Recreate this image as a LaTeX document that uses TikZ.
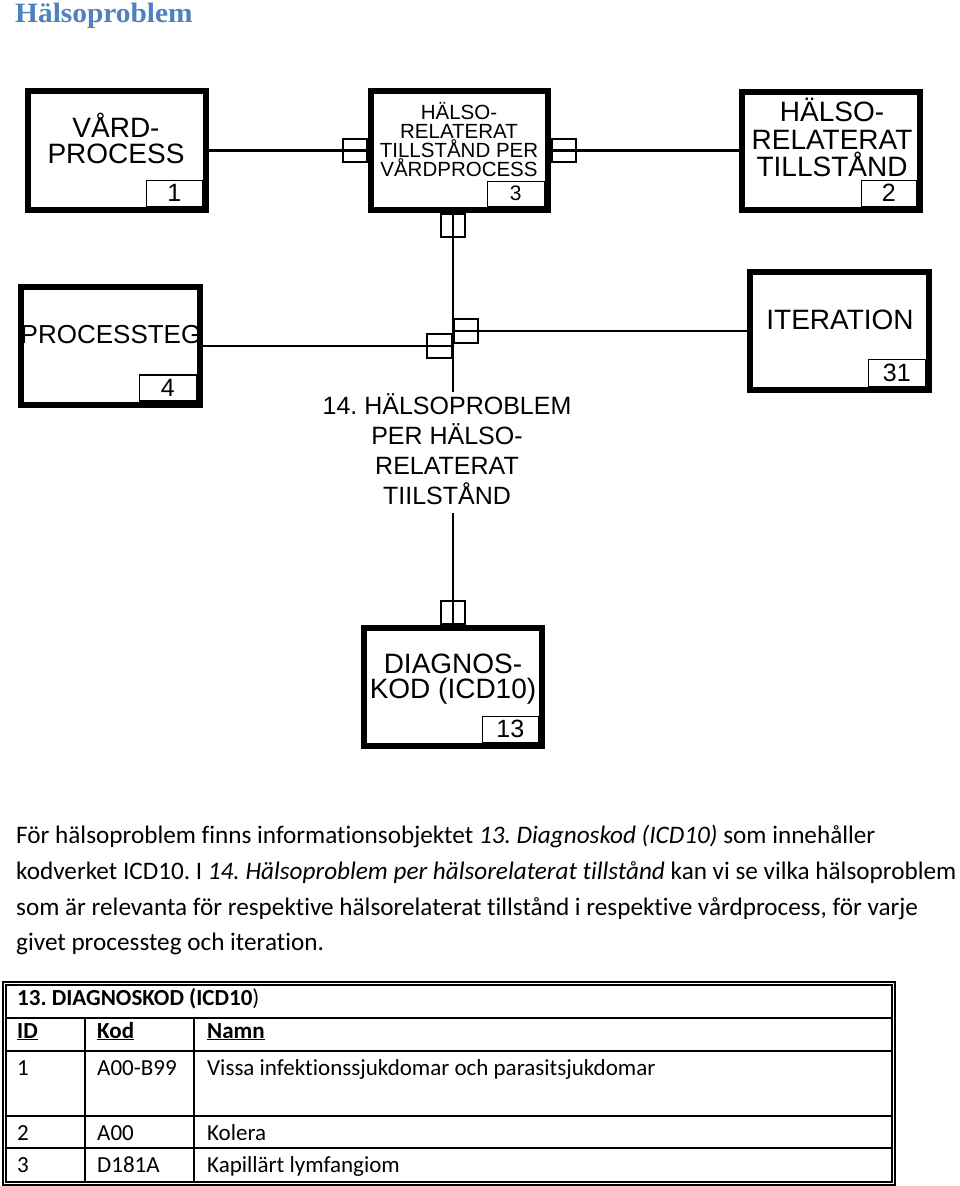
\documentclass[tikz,border=0pt]{standalone}
\usepackage{fontspec}
\setmainfont{Liberation Sans}
\newfontfamily\bodyfont[Ligatures={NoCommon}]{Carlito}
\newfontfamily\titlefont[FakeStretch=1.05]{Liberation Serif}
\definecolor{titleblue}{HTML}{4F81BD}
\frenchspacing
\tikzset{
  entity/.style={draw, line width=6pt, inner sep=0pt},
  numbox/.style={draw, line width=1.5pt, inner sep=0pt, anchor=south east, font=\fontsize{25}{25}\selectfont},
  sq/.style={draw, line width=2pt, inner sep=0pt, minimum width=24pt, minimum height=23pt},
  conn/.style={line width=2.5pt},
  lbl/.style={align=center, inner sep=0pt},
  txt/.style={inner sep=0pt, anchor=base west, font=\bodyfont\fontsize{23}{23}\selectfont},
  para/.style={inner sep=0pt, anchor=base west, font=\bodyfont\fontsize{25.2}{25}\selectfont},
  grid/.style={line width=1.5pt}
}
\begin{document}
\begin{tikzpicture}[x=1pt,y=-1pt]
\useasboundingbox (0,0) rectangle (960,1186);

% title
\node[inner sep=0pt, anchor=base west, text=titleblue, font=\titlefont\bfseries\fontsize{28}{30}\selectfont] (title) at (15,22) {Hälsoproblem};

% entities
\node[entity, minimum width=178pt, minimum height=119pt] (b1) at (117,150.5) {};
\node[lbl, font=\fontsize{28}{26}\selectfont] (t1) at (116,138) {VÅRD-\\PROCESS};
\node[numbox, minimum width=56pt, minimum height=26pt] (n1) at ([shift={(-6,-6)}]b1.south east) {1};

\node[entity, minimum width=177pt, minimum height=119pt] (b3) at (459.5,150.5) {};
\node[lbl, font=\fontsize{20.5}{18.8}\selectfont] (t3) at (459,139.5) {HÄLSO-\\RELATERAT\\TILLSTÅND PER\\VÅRDPROCESS};
\node[numbox, minimum width=57pt, minimum height=25pt, font=\fontsize{21}{21}\selectfont] (n3) at ([shift={(-6,-6)}]b3.south east) {3};

\node[entity, minimum width=178.5pt, minimum height=118pt] (b2) at (830.75,151) {};
\node[lbl, font=\fontsize{28}{27.5}\selectfont] (t2) at (832,137.5) {HÄLSO-\\RELATERAT\\TILLSTÅND};
\node[numbox, minimum width=55pt, minimum height=26pt] (n2) at ([shift={(-6,-6)}]b2.south east) {2};

\node[entity, minimum width=179pt, minimum height=118pt] (b4) at (110.5,345.5) {};
\node[lbl, font=\fontsize{26}{26}\selectfont] (t4) at (111,335) {PROCESSTEG};
\node[numbox, minimum width=57pt, minimum height=26pt] (n4) at ([shift={(-6,-6)}]b4.south east) {4};

\node[entity, minimum width=179pt, minimum height=118pt] (b31) at (839.5,331) {};
\node[lbl, font=\fontsize{28}{28}\selectfont] (t31) at (840,320) {ITERATION};
\node[numbox, minimum width=57pt, minimum height=27pt] (n31) at ([shift={(-6,-6)}]b31.south east) {31};

\node[entity, minimum width=178pt, minimum height=118pt] (b13) at (453,687) {};
\node[lbl, font=\fontsize{28}{25.5}\selectfont] (t13) at (453,679) {DIAGNOS-\\KOD (ICD10)};
\node[numbox, minimum width=56pt, minimum height=26pt] (n13) at ([shift={(-6,-6)}]b13.south east) {13};

% relationship label
\node[lbl, font=\fontsize{25}{30}\selectfont] (rel14) at (447,449) {14. HÄLSOPROBLEM\\PER HÄLSO-\\RELATERAT\\TIILSTÅND};

% junction coordinates
\coordinate (vtop) at (453,213);
\coordinate (jend) at (453,392);
\coordinate (jA) at (453,346);
\coordinate (jB) at (453,331);
\coordinate (lowtop) at (453,513);

% connectors
\draw[conn] (b1.east) -- (b3.west);
\draw[conn] (b3.east) -- (b2.west |- b3.east);
\draw[conn] (vtop) -- (jend);
\draw[conn] (b4.east |- jA) -- (jA);
\draw[conn] (jB) -- (b31.west |- jB);
\draw[conn] (lowtop) -- (b13.north);

% cardinality squares
\node[sq, anchor=east] (s3l) at (b3.west) {};
\node[sq, anchor=west] (s3r) at (b3.east) {};
\node[sq, anchor=north] (s3b) at (vtop) {};
\node[sq, anchor=east, minimum height=24pt, minimum width=25pt] (sA) at (jA) {};
\node[sq, anchor=west, minimum height=24pt] (sB) at (jB) {};
\node[sq, anchor=south] (s13) at (b13.north) {};

% paragraph
\node[para] (p1) at (16,843) {För hälsoproblem finns informationsobjektet \textit{13. Diagnoskod (ICD10)} som innehåller};
\node[para] (p2) at (16,879) {kodverket ICD10. I \textit{14. Hälsoproblem per hälsorelaterat tillstånd} kan vi se vilka hälsoproblem};
\node[para] (p3) at (16,915) {som är relevanta för respektive hälsorelaterat tillstånd i respektive vårdprocess, för varje};
\node[para] (p4) at (16,950) {givet processteg och iteration.};

% table
\draw[line width=1.2pt] (3,982) rectangle (895,1185);
\draw[line width=1.2pt] (6,985) rectangle (892,1182);
\draw[grid] (6,1018) -- (892,1018);
\draw[grid] (6,1051) -- (892,1051);
\draw[grid] (6,1116) -- (892,1116);
\draw[grid] (6,1148) -- (892,1148);
\draw[grid] (85,1018) -- (85,1182);
\draw[grid] (194,1018) -- (194,1182);

\node[txt] (th) at (17,1005) {\textbf{13. DIAGNOSKOD (ICD10}){}};
\node[txt] (hid) at (17,1038) {\underline{\textbf{ID}}};
\node[txt] (hkod) at (97,1038) {\underline{\textbf{Kod}}};
\node[txt] (hnamn) at (207,1038) {\underline{\textbf{Namn}}};
\node[txt] (r1a) at (17,1075) {1};
\node[txt] (r1b) at (97,1075) {A00-B99};
\node[txt] (r1c) at (207,1075) {Vissa infektionssjukdomar och parasitsjukdomar};
\node[txt] (r2a) at (17,1140) {2};
\node[txt] (r2b) at (97,1140) {A00};
\node[txt] (r2c) at (207,1140) {Kolera};
\node[txt] (r3a) at (17,1172) {3};
\node[txt] (r3b) at (97,1172) {D181A};
\node[txt] (r3c) at (207,1172) {Kapillärt lymfangiom};
\end{tikzpicture}
\end{document}
